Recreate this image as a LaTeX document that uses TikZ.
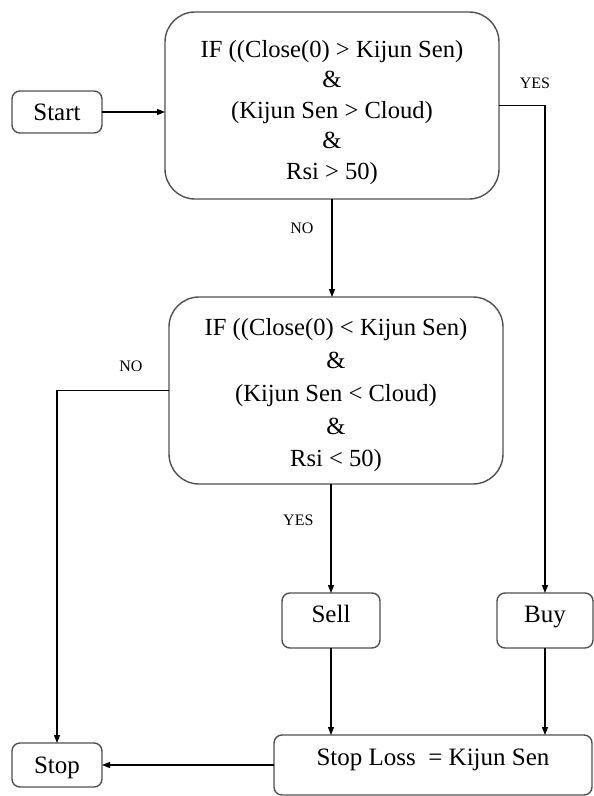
\documentclass[tikz,border=0pt]{standalone}
\usepackage{fontspec}
\setmainfont{Liberation Serif}
\usetikzlibrary{positioning}
\usetikzlibrary{arrows.meta}
\definecolor{boxgray}{RGB}{80,80,80}

\begin{document}
\begin{tikzpicture}
		[x=1pt, y=1pt,
		box/.style={rectangle, rounded corners=8pt, draw=boxgray, line width=1.4pt, inner sep=0pt, outer sep=0pt, font=\fontsize{25}{30}\selectfont, text height=17pt, text depth=1pt},
		cond/.style={box, rounded corners=30pt, minimum width=334pt, minimum height=187pt, align=center, text height=, text depth=},
		flow/.style={-{Triangle[length=8pt, width=6pt]}, line width=1.1pt},
		answer/.style={inner sep=0pt, font=\fontsize{16}{18}\selectfont}]
		\useasboundingbox (0,0) rectangle (594,-796);
		\node[cond, font=\fontsize{24.6}{30.5}\selectfont] (ifbuy) at (332,-105.5) {\rule{0pt}{31pt}IF ((Close(0) > Kijun Sen)\\ \&\\ (Kijun Sen > Cloud)\\ \&\\ Rsi > 50)};
		\node[box, minimum width=90pt, minimum height=42pt, left=63pt of ifbuy, yshift=-6.5pt] (start) {Start};
		\node[cond, font=\fontsize{24.6}{32.7}\selectfont, below=98pt of ifbuy, xshift=4pt] (ifsell) {\rule{0pt}{27pt}IF ((Close(0) < Kijun Sen)\\ \&\\ (Kijun Sen < Cloud)\\ \&\\ Rsi < 50)};
		\node[box, minimum width=98pt, minimum height=55pt, text depth=13pt, below=109pt of ifsell, xshift=-5pt] (sell) {Sell};
		\node[box, minimum width=96pt, minimum height=55pt, text depth=13pt, right=117pt of sell] (buy) {Buy};
		\node[box, minimum width=318pt, minimum height=60pt, text depth=17pt, below=87pt of sell, xshift=102pt] (stoploss) {Stop Loss\ \ = Kijun Sen};
		\node[box, minimum width=90pt, minimum height=44pt, left=172pt of stoploss] (stop) {Stop};

		\draw[flow] (start.east) -- (start.east -| ifbuy.west);
		\draw[flow] (ifbuy.south) -- node[answer, pos=0.3, left=18pt] (nobuy) {NO} (ifbuy.south |- ifsell.north);
		\draw[flow] (ifbuy.east) -| node[answer, pos=0.5, above=16pt, xshift=-10pt] (yesbuy) {YES} (buy.north);
		\draw[flow] (ifsell.west) -| node[answer, pos=0.17, above=18pt] (nosell) {NO} (stop.north);
		\draw[flow] (sell.north |- ifsell.south) -- node[answer, pos=0.33, left=17pt] (yessell) {YES} (sell.north);
		\draw[flow] (sell.south) -- (sell.south |- stoploss.north);
		\draw[flow] (buy.south) -- (buy.south |- stoploss.north);
		\draw[flow] (stoploss) -- (stop);
	\end{tikzpicture}
\end{document}
